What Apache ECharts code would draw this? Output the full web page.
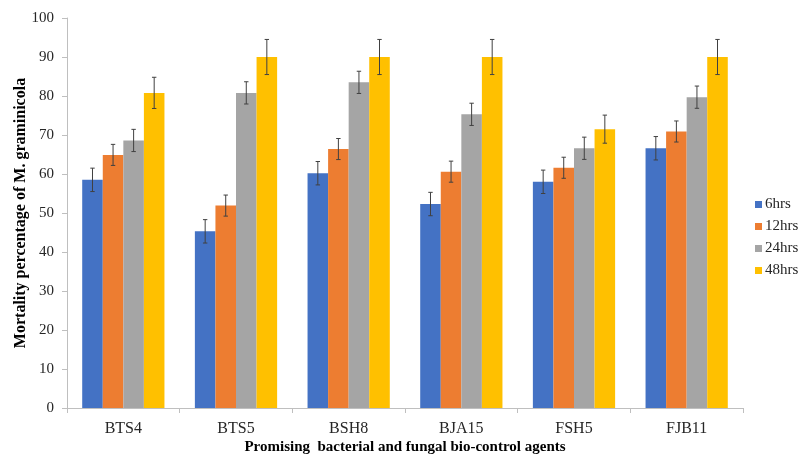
<!DOCTYPE html>
<html>
<head>
<meta charset="utf-8">
<script src="https://cdn.jsdelivr.net/npm/echarts@6/dist/echarts.min.js"></script>
<style>html,body{margin:0;padding:0;background:#fff}#c{width:800px;height:455px}</style>
</head>
<body>
<div id="c"></div>
<script>
const categories = ['BTS4', 'BTS5', 'BSH8', 'BJA15', 'FSH5', 'FJB11'];
const seriesNames = ['6hrs', '12hrs', '24hrs', '48hrs'];
const hrs6  = [58.5, 45.3, 60.2, 52.3, 58.0, 66.6];
const hrs12 = [64.9, 51.9, 66.4, 60.6, 61.6, 70.9];
const hrs24 = [68.6, 80.8, 83.5, 75.3, 66.6, 79.7];
const hrs48 = [80.8, 90.0, 90.0, 90.0, 71.5, 90.0];
const err6  = [3.0, 3.0, 3.0, 3.0, 3.0, 3.0];
const err12 = [2.7, 2.7, 2.7, 2.7, 2.7, 2.7];
const err24 = [2.85, 2.85, 2.85, 2.85, 2.85, 2.85];
const err48 = [4.0, 4.5, 4.5, 4.5, 3.6, 4.5];
const yTicks = [0, 10, 20, 30, 40, 50, 60, 70, 80, 90, 100];

const values = [hrs6, hrs12, hrs24, hrs48];
const errors = [err6, err12, err24, err48];
const colors = ['#4472C4', '#ED7D31', '#A5A5A5', '#FFC000'];
const GAP = 0.27;
const font = '"Liberation Serif", "Times New Roman", serif';

const chart = echarts.init(document.getElementById('c'));
const series = [];
values.forEach((v, i) => {
  series.push({
    name: seriesNames[i], type: 'bar', data: v,
    itemStyle: { color: colors[i] },
    barGap: '0%', barCategoryGap: (GAP * 100) + '%'
  });
});
values.forEach((v, i) => {
  series.push({
    name: seriesNames[i] + '_err', type: 'custom', z: 10,
    data: v.map((val, k) => [k, val, errors[i][k]]),
    encode: { x: 0, y: 1 },
    renderItem: function (params, api) {
      const k = api.value(0), val = api.value(1), e = api.value(2);
      const catW = api.size([1, 0])[0];
      const bw = catW * (1 - GAP) / 4;
      const cx = api.coord([k, val])[0] + (i - 1.5) * bw;
      const yh = api.coord([k, val + e])[1];
      const yl = api.coord([k, val - e])[1];
      const c = 2.2;
      const st = { stroke: '#404040', lineWidth: 1 };
      return { type: 'group', children: [
        { type: 'line', shape: { x1: cx, y1: yh, x2: cx, y2: yl }, style: st },
        { type: 'line', shape: { x1: cx - c, y1: yh, x2: cx + c, y2: yh }, style: st },
        { type: 'line', shape: { x1: cx - c, y1: yl, x2: cx + c, y2: yl }, style: st }
      ]};
    },
    silent: true
  });
});

chart.setOption({
  animation: false,
  textStyle: { fontFamily: font },
  grid: { left: 67, right: 57, top: 18, bottom: 47, containLabel: false, outerBoundsMode: 'none' },
  legend: {
    data: seriesNames, orient: 'vertical', left: 755, top: 197,
    itemWidth: 7, itemHeight: 7, itemGap: 7, icon: 'rect', padding: 0,
    textStyle: { fontFamily: font, fontSize: 15, lineHeight: 15, color: '#262626', padding: [0, 0, 0, -2] }
  },
  xAxis: {
    type: 'category', data: categories,
    name: 'Promising  bacterial and fungal bio-control agents',
    nameLocation: 'middle', nameGap: 32, nameMoveOverlap: false,
    nameTextStyle: { fontFamily: font, fontSize: 15, fontWeight: 'bold', color: '#000' },
    axisLine: { lineStyle: { color: '#bfbfbf' } },
    axisTick: { show: true, length: 5, lineStyle: { color: '#bfbfbf' } },
    axisLabel: { fontFamily: font, fontSize: 16, color: '#262626', margin: 13 }
  },
  yAxis: {
    type: 'value', min: 0, max: 100, interval: 10,
    name: 'Mortality percentage of M. graminicola',
    nameLocation: 'middle', nameGap: 38, nameMoveOverlap: false,
    nameTextStyle: { fontFamily: font, fontSize: 16, fontWeight: 'bold', color: '#000' },
    axisLine: { show: true, lineStyle: { color: '#bfbfbf' } },
    axisTick: { show: true, length: 5, lineStyle: { color: '#bfbfbf' } },
    splitLine: { show: false },
    axisLabel: { fontFamily: font, fontSize: 15, color: '#262626', margin: 13,
      formatter: v => yTicks.includes(v) ? String(v) : '' }
  },
  series: series
});
</script>
</body>
</html>
